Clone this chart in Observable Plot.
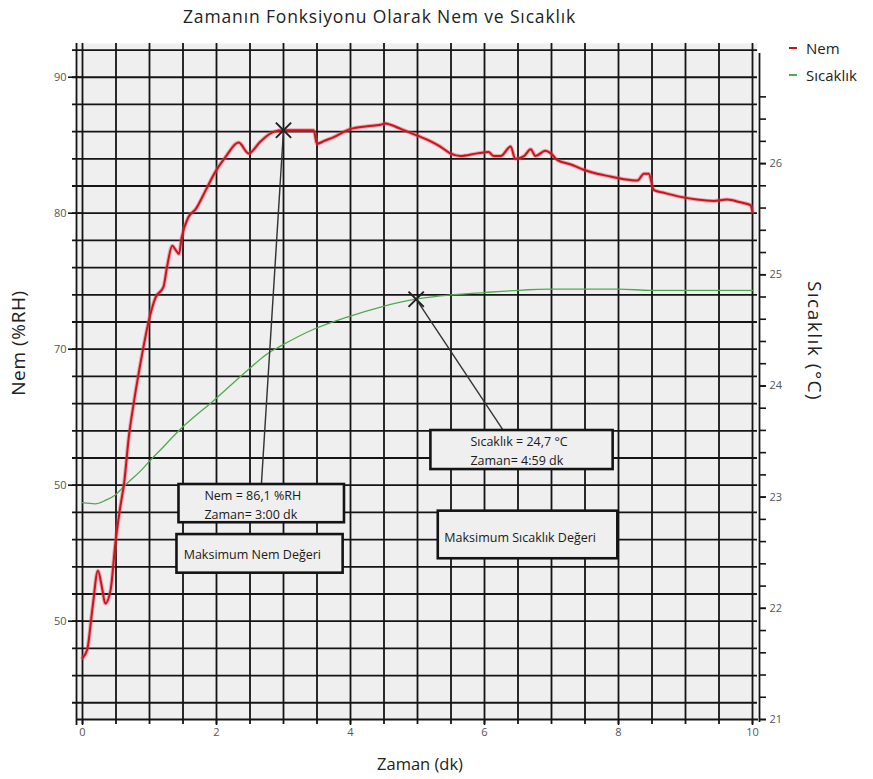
<!DOCTYPE html>
<html><head><meta charset="utf-8">
<script src="https://cdn.jsdelivr.net/npm/d3@7"></script>
<script src="https://cdn.jsdelivr.net/npm/@observablehq/plot@0.6"></script>
<style>
body{margin:0;background:#fff;font-family:"Open Sans",sans-serif;}
#wrap{position:relative;width:873px;height:779px;overflow:hidden;}
#title{height:34px;position:relative;}
#title span{position:absolute;left:183px;top:4px;font-size:17.5px;letter-spacing:0.85px;color:#222;white-space:nowrap;}
.lab{position:absolute;white-space:nowrap;color:#222;}
.leg{position:absolute;left:789px;height:20px;font-size:15px;color:#222;display:flex;align-items:center;white-space:nowrap;}
.leg i{display:inline-block;width:8px;height:2.5px;margin-right:9px;}
#chart svg{display:block;}
</style></head><body>
<div id="wrap">
<div id="title"><span>Zamanın Fonksiyonu Olarak Nem ve Sıcaklık</span></div>
<div id="chart"></div>
<div class="leg" style="top:38px"><i style="background:#c8141e"></i>Nem</div>
<div class="leg" style="top:65px"><i style="background:#4faa4f"></i>Sıcaklık</div>
<div class="lab" style="left:18px;top:343px;font-size:19px;letter-spacing:0.6px;transform:translate(-50%,-50%) rotate(-90deg)">Nem (%RH)</div>
<div class="lab" style="left:815px;top:341px;font-size:19px;letter-spacing:1.5px;transform:translate(-50%,-50%) rotate(90deg)">Sıcaklık (°C)</div>
<div class="lab" style="left:420px;top:763px;font-size:16.5px;transform:translate(-50%,-50%)">Zaman (dk)</div>
</div>
<script>
// ---- data ----
const nemTime = [0.00,0.07,0.15,0.23,0.29,0.34,0.42,0.49,0.57,0.62,0.69,0.77,0.90,0.99,1.09,1.21,1.26,1.34,1.39,1.44,1.48,1.58,1.69,1.84,1.99,2.13,2.33,2.48,2.66,2.86,3.00,3.45,3.50,3.60,3.75,4.00,4.25,4.45,4.52,4.60,4.75,5.00,5.19,5.34,5.49,5.64,5.89,6.06,6.14,6.24,6.39,6.46,6.59,6.69,6.76,6.91,6.99,7.09,7.28,7.48,7.68,7.88,8.08,8.28,8.38,8.45,8.53,8.68,8.93,9.17,9.42,9.62,9.82,9.97,10.00];
const nemValue = [47.3,47.9,51.0,53.7,52.5,51.3,52.3,55.7,58.6,60.1,63.5,66.2,69.9,72.1,73.8,74.6,76.0,77.6,77.3,77.0,78.2,79.7,80.3,81.7,83.1,84.1,85.2,84.4,85.3,86.0,86.1,86.1,85.1,85.3,85.6,86.2,86.4,86.5,86.6,86.5,86.2,85.7,85.3,84.9,84.4,84.2,84.4,84.5,84.2,84.2,84.9,84.0,84.2,84.7,84.2,84.6,84.4,83.9,83.6,83.2,82.9,82.7,82.5,82.4,82.9,82.9,81.7,81.5,81.2,81.0,80.9,81.0,80.8,80.6,80.1];
const tempTime = [0.00,0.19,0.34,0.49,0.64,0.89,1.01,1.14,1.46,1.96,2.46,2.76,2.96,3.45,3.95,4.45,4.97,5.34,6.00,6.50,7.00,7.50,8.00,8.50,9.00,9.50,10.00];
const tempValue = [22.95,22.94,22.97,23.02,23.11,23.25,23.33,23.41,23.61,23.87,24.14,24.29,24.36,24.51,24.62,24.71,24.78,24.81,24.84,24.86,24.87,24.87,24.87,24.86,24.86,24.86,24.86];

const xTicks = [0,2,4,6,8,10];
const xGrid = [0,0.5,1,1.5,2,2.5,3,3.5,4,4.5,5,5.5,6,6.5,7,7.5,8,8.5,9,9.5,10];
const nemGrid = [44,46,48,50,52,54,56,58,60,62,64,66,68,70,72,74,76,78,80,82,84,86,88,90,92];
const nemTicks = [90,80,70,60,50];
const nemTickLabels = ["90","80","70","50","50"];
const tempTicks = [21,22,23,24,25,26];
const tempMinorTicks = [21,21.2,21.4,21.6,21.8,22,22.2,22.4,22.6,22.8,23,23.2,23.4,23.6,23.8,24,24.2,24.4,24.6,24.8,25,25.2,25.4,25.6,25.8,26,26.2,26.4,26.6];

const nemPeak = {time: 3.00, nem: 86.1};
const tempPeak = {time: 4.98, temp: 24.78};

// annotation boxes (data units: time, %RH)
const boxes = [
  {label: "Nem = 86,1 %RH\nZaman= 3:00 dk", x1: 1.44, x2: 3.91, y1: 57.24, y2: 60.05, tx: 1.82, ty: 58.65},
  {label: "Maksimum Nem Değeri", x1: 1.41, x2: 3.89, y1: 53.53, y2: 56.37, tx: 1.51, ty: 55.0},
  {label: "Sıcaklık = 24,7 °C\nZaman= 4:59 dk", x1: 5.20, x2: 7.92, y1: 61.15, y2: 64.02, tx: 5.79, ty: 62.62},
  {label: "Maksimum Sıcaklık Değeri", x1: 5.31, x2: 7.99, y1: 54.59, y2: 58.09, tx: 5.40, ty: 56.3}
];
const leaderEnds = {nemTime: 2.67, nem: 60.05, tempTime: 6.28, temp: 23.60};

// scale domains
const nemDomain = [42.77, 92.48];
const tempDomain = [21, 27.08];
const toNem = t => nemDomain[0] + (t - tempDomain[0]) * (nemDomain[1] - nemDomain[0]) / (tempDomain[1] - tempDomain[0]);
const toTemp = n => tempDomain[0] + (n - nemDomain[0]) * (tempDomain[1] - tempDomain[0]) / (nemDomain[1] - nemDomain[0]);

const nemData = nemTime.map((t, i) => ({time: t, v: nemValue[i]}));
const tempData = tempTime.map((t, i) => ({time: t, v: toNem(tempValue[i])}));
const links = [
  {x1: nemPeak.time, y1: nemPeak.nem, x2: leaderEnds.nemTime, y2: leaderEnds.nem},
  {x1: tempPeak.time, y1: toNem(tempPeak.temp), x2: leaderEnds.tempTime, y2: toNem(leaderEnds.temp)}
];
const peaks = [{time: nemPeak.time, v: nemPeak.nem}, {time: tempPeak.time, v: toNem(tempPeak.temp)}];

const ink = "#141414";
const chart = Plot.plot({
  width: 873,
  height: 745,
  marginTop: 9,
  marginBottom: 60,
  marginLeft: 82,
  marginRight: 121,
  style: {fontFamily: "'Open Sans', sans-serif", background: "transparent"},
  x: {domain: [0, 10]},
  y: {domain: nemDomain},
  marks: [
    Plot.frame({fill: "#efefef", stroke: null, insetLeft: -6, insetRight: -5}),
    Plot.ruleY(nemGrid, {stroke: ink, strokeWidth: 1.8, insetLeft: -10, insetRight: -5}),
    Plot.ruleX(xGrid, {stroke: ink, strokeWidth: 1.8, insetBottom: -5}),
    Plot.ruleX([0], {dx: -6, stroke: ink, strokeWidth: 1.8, insetBottom: -6}),
    Plot.ruleX([10], {dx: 7, stroke: ink, strokeWidth: 1.8, insetTop: 10, insetBottom: -3}),
    Plot.ruleY([nemDomain[0]], {stroke: ink, strokeWidth: 1.8, insetLeft: -6, insetRight: -6}),
    Plot.axisY({ticks: nemTicks, anchor: "left", tickSize: 14, tickPadding: 2, label: null,
      tickFormat: d => nemTickLabels[nemTicks.indexOf(d)], stroke: ink, strokeWidth: 1.6, fill: "#555", fontSize: 11}),
    Plot.axisY({ticks: tempMinorTicks.map(toNem), anchor: "right", tickSize: 6, tickPadding: 4, label: null,
      tickFormat: () => "", dx: 7, stroke: ink, strokeWidth: 1.6}),
    Plot.axisY({ticks: tempTicks.map(toNem), anchor: "right", tickSize: 6, tickPadding: 4, label: null,
      tickFormat: d => String(Math.round(toTemp(d))), dx: 7, stroke: ink, strokeWidth: 1.6, fill: "#555", fontSize: 11}),
    Plot.axisX({ticks: xTicks, anchor: "bottom", tickSize: 6, tickPadding: 3, label: null,
      stroke: ink, strokeWidth: 1.6, fill: "#555", fontSize: 11}),
    Plot.line(tempData, {x: "time", y: "v", stroke: "#4faa4f", strokeWidth: 1.3, curve: "monotone-x"}),
    Plot.line(nemData, {x: "time", y: "v", stroke: "#e8505a", strokeOpacity: 0.45, strokeWidth: 4, curve: "monotone-x"}),
    Plot.line(nemData, {x: "time", y: "v", stroke: "#c8141e", strokeWidth: 2, curve: "monotone-x"}),
    Plot.link(links, {x1: "x1", y1: "y1", x2: "x2", y2: "y2", stroke: "#333", strokeWidth: 1.4}),
    Plot.dot(peaks, {x: "time", y: "v", symbol: "times", r: 7, stroke: "#222", strokeWidth: 2}),
    Plot.rect(boxes, {x1: "x1", x2: "x2", y1: "y1", y2: "y2", fill: "#efefef", stroke: ink, strokeWidth: 2.6}),
    Plot.text(boxes, {x: "tx", y: "ty", text: "label", textAnchor: "start", lineAnchor: "middle",
      lineHeight: 1.5, fontSize: 12.5, fill: "#1a1a1a"})
  ]
});
document.getElementById("chart").appendChild(chart);
</script>
</body></html>
